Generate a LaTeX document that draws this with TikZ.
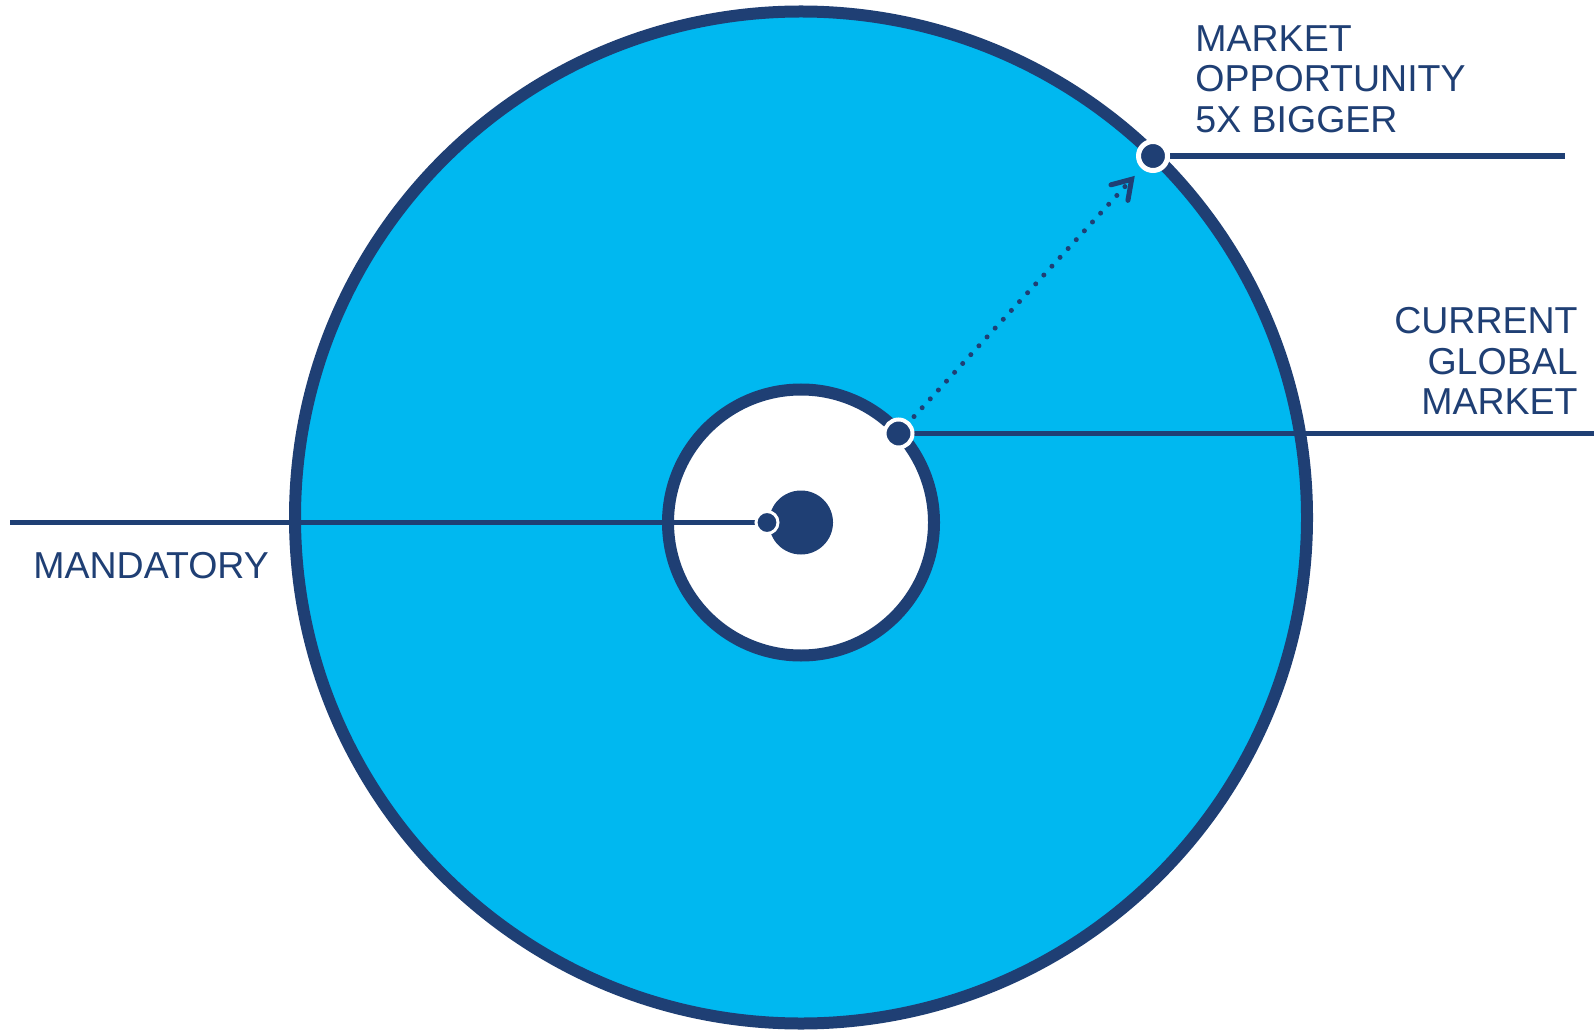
\documentclass[tikz,border=0pt]{standalone}
\usepackage{fontspec}
\setmainfont{Liberation Sans}
\usetikzlibrary{arrows.meta,positioning}
\definecolor{MktNavy}{HTML}{1F3F74}
\definecolor{MktSky}{HTML}{00B8F0}
\pgfdeclarelayer{background}
\pgfdeclarelayer{wires}
\pgfsetlayers{background,wires,main}
\tikzset{
  pin/.style={circle,fill=MktNavy,draw=white,inner sep=0pt},
  lead/.style={draw=MktNavy,line width=2.6pt},
  tag/.style={font=\fontsize{18.75}{20.25}\selectfont,text=MktNavy,inner sep=0pt}
}

\begin{document}
\begin{tikzpicture}[x=0.5pt,y=0.5pt]
  \useasboundingbox (0,0) rectangle (1594,1035);
  \begin{pgfonlayer}{background}
    \draw[MktNavy,fill=MktSky,line width=6pt] (801,517.5) circle (506);
    \draw[MktNavy,fill=white,line width=6pt] (801,512.5) circle (133);
  \end{pgfonlayer}
  \node[circle,fill=MktNavy,inner sep=0pt,minimum size=32pt] (core) at (801,512.5) {};
  % pins on the rings
  \node[pin,minimum size=11pt,line width=1.5pt] (mand) at (767,512.5) {};
  \node[pin,minimum size=14pt,line width=2pt] (cur) at (898.5,601.5) {};
  \node[pin,minimum size=14.5pt,line width=2.5pt] (opp) at (1153,879) {};
  \coordinate (mandEnd) at (10,512.5);
  \coordinate (curEnd) at (1594,601.5);
  \coordinate (oppEnd) at (1565,879);
  \begin{pgfonlayer}{wires}
    \draw[lead] (mand.center) -- (mandEnd);
    \draw[lead] (cur.center) -- (curEnd);
    \draw[lead] (opp.center) -- (oppEnd);
  \end{pgfonlayer}
  \draw[MktNavy,line width=2.5pt,line cap=round,dash pattern=on 0pt off 6pt,
    shorten <=3.5pt,shorten >=5pt,
    -{Straight Barb[length=9pt,width=11.5pt,line cap=round]}] (cur) -- (opp);
  % labels
  \node[tag,anchor=north west,align=left] (oppTag) at (1195,1010)
    {MARKET\\OPPORTUNITY\\5X BIGGER};
  \node[tag,anchor=north east,align=right] (curTag) at (1578,728)
    {CURRENT\\GLOBAL\\MARKET};
  \node[tag,anchor=north west] (mandTag) at (33,483) {MANDATORY};
\end{tikzpicture}
\end{document}
